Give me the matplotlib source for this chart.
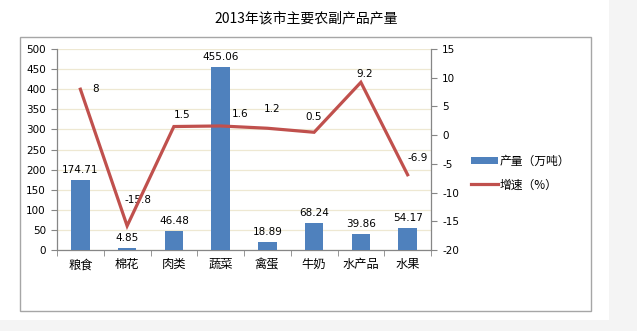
import matplotlib
matplotlib.use("Agg")
import matplotlib.pyplot as plt
from matplotlib.patches import Rectangle
from matplotlib.lines import Line2D
import numpy as np

plt.rcParams['font.family'] = ['Noto Sans CJK SC', 'DejaVu Sans']

title = "2013年该市主要农副产品产量"
categories = ["粮食", "棉花", "肉类", "蔬菜", "禽蛋", "牛奶", "水产品", "水果"]
output = [174.71, 4.85, 46.48, 455.06, 18.89, 68.24, 39.86, 54.17]
growth = [8, -15.8, 1.5, 1.6, 1.2, 0.5, 9.2, -6.9]
growth_labels = ["8", "-15.8", "1.5", "1.6", "1.2", "0.5", "9.2", "-6.9"]
output_labels = ["174.71", "4.85", "46.48", "455.06", "18.89", "68.24", "39.86", "54.17"]
left_ticks = [0, 50, 100, 150, 200, 250, 300, 350, 400, 450, 500]
right_ticks = [-20, -15, -10, -5, 0, 5, 10, 15]
legend_labels = ["产量（万吨）", "增速（%）"]

# label offsets (pixels) for growth labels
g_off = [(15, 0), (11, 26), (8, 12), (19, 12), (5, 19), (0, 15), (4, 8), (10, 17)]

W, H = 637, 331
fig = plt.figure(figsize=(W / 100, H / 100), dpi=100)
fig.patch.set_facecolor("white")

# gray surroundings
fig.patches.append(Rectangle((609 / W, 0), 1 - 609 / W, 1, transform=fig.transFigure,
                             facecolor="#f4f4f4", edgecolor="none", zorder=-3))
fig.patches.append(Rectangle((0, 0), 1, 1 - 320 / H, transform=fig.transFigure,
                             facecolor="#f4f4f4", edgecolor="none", zorder=-3))
# chart frame
fig.patches.append(Rectangle((20 / W, 1 - 311 / H), 571 / W, 274 / H, transform=fig.transFigure,
                             facecolor="white", edgecolor="#a6a6a6", linewidth=1.0, zorder=-2))

fig.text(306 / W, 1 - 18 / H, title, ha="center", va="center", fontsize=10, color="#000000")

ax = fig.add_axes([57 / W, 1 - 250 / H, 374 / W, 201 / H])
ax.set_zorder(2)
ax.set_facecolor("none")
x = np.arange(len(categories))
bars = ax.bar(x, output, width=0.4, color="#4f81bd", zorder=3)
ax.set_xlim(-0.5, len(categories) - 0.5)
ax.set_ylim(0, 500)
ax.set_yticks(left_ticks)
ax.set_yticklabels([str(t) for t in left_ticks], fontsize=7.5, family="DejaVu Sans")
ax.yaxis.grid(True, color="#eee8d2", linewidth=0.9, zorder=0)
ax.set_axisbelow(True)
ax.set_xticks(x)
ax.set_xticklabels(categories, fontsize=8.8)
ax.set_xticks(np.arange(-0.5, len(categories), 1), minor=True)
ax.tick_params(axis="x", which="major", length=0, pad=6)
ax.tick_params(axis="x", which="minor", length=4, color="#868686", direction="out")
ax.tick_params(axis="y", length=4, color="#868686", direction="out", pad=4)
for s in ["top", "right"]:
    ax.spines[s].set_visible(False)
for s in ["left", "bottom"]:
    ax.spines[s].set_color("#868686")
    ax.spines[s].set_linewidth(0.9)

for xi, v, lab in zip(x, output, output_labels):
    ax.annotate(lab, (xi, v), xytext=(0, 5), textcoords="offset pixels",
                ha="center", va="bottom", fontsize=7.5, family="DejaVu Sans", color="#000000")

ax2 = ax.twinx()
ax2.set_zorder(3)
ax2.set_facecolor("none")
ax2.set_ylim(-20, 15)
ax2.set_yticks(right_ticks)
ax2.set_yticklabels([str(t) for t in right_ticks], fontsize=7.5, family="DejaVu Sans")
ax2.plot(x, growth, color="#c0504d", linewidth=2.3, zorder=4, solid_joinstyle="miter")
ax2.tick_params(axis="y", length=4, color="#868686", direction="out", pad=4)
for s in ["top", "left", "bottom"]:
    ax2.spines[s].set_visible(False)
ax2.spines["right"].set_color("#868686")
ax2.spines["right"].set_linewidth(0.9)

for xi, v, lab, (dx, dy) in zip(x, growth, growth_labels, g_off):
    ax2.annotate(lab, (xi, v), xytext=(dx, dy), textcoords="offset pixels",
                 ha="center", va="center", fontsize=7.5, family="DejaVu Sans", color="#000000")

handles = [Rectangle((0, 0), 1, 1, facecolor="#4f81bd", edgecolor="none"),
           Line2D([0], [0], color="#c0504d", linewidth=2.3)]
leg = fig.legend(handles, legend_labels, loc="center left",
                 bbox_to_anchor=(460 / W, 1 - 173 / H), frameon=False, fontsize=8.5,
                 handlelength=2.3, handleheight=0.55, handletextpad=0.15, labelspacing=0.9)

fig.savefig("out.png", dpi=100, facecolor=fig.get_facecolor())
